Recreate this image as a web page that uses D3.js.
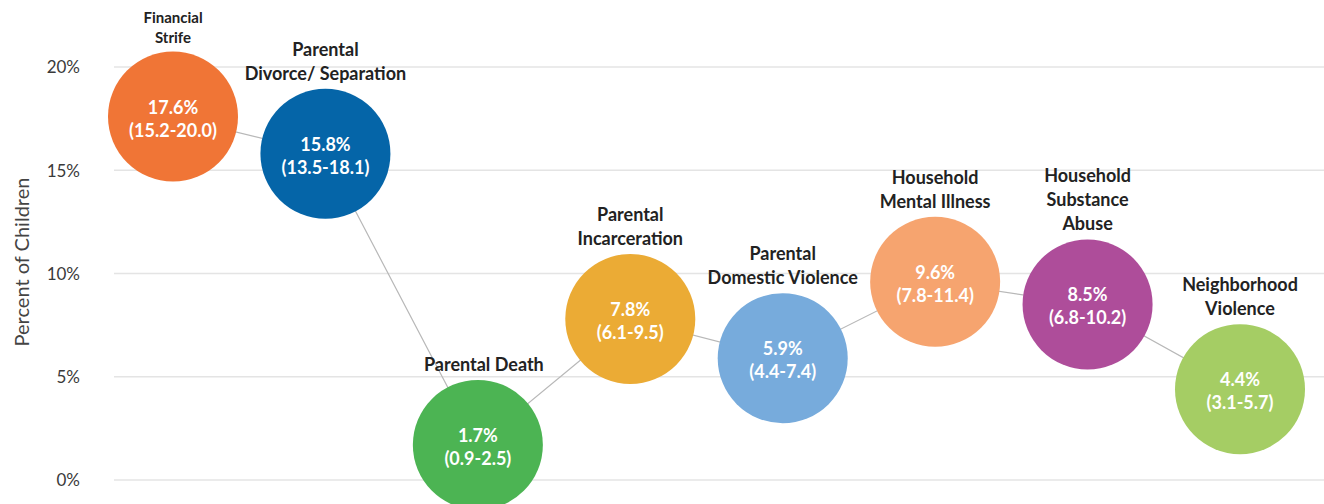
<!DOCTYPE html>
<html>
<head>
<meta charset="utf-8">
<script src="https://cdn.jsdelivr.net/npm/d3@7"></script>
<style>
  body { margin: 0; background: #fff; }
  svg text { font-family: "Lato", "Open Sans", sans-serif; }
</style>
</head>
<body>
<svg id="chart" width="1324" height="504"></svg>
<script>
// datos
var categorias = ["Financial Strife", "Parental Divorce/ Separation", "Parental Death",
  "Parental Incarceration", "Parental Domestic Violence", "Household Mental Illness",
  "Household Substance Abuse", "Neighborhood Violence"];
var etiquetas = [["Financial", "Strife"], ["Parental", "Divorce/ Separation"], ["Parental Death"],
  ["Parental", "Incarceration"], ["Parental", "Domestic Violence"], ["Household", "Mental Illness"],
  ["Household", "Substance", "Abuse"], ["Neighborhood", "Violence"]];
var valores = [17.6, 15.8, 1.7, 7.8, 5.9, 9.6, 8.5, 4.4];
var bajos = ["15.2", "13.5", "0.9", "6.1", "4.4", "7.8", "6.8", "3.1"];
var altos = ["20.0", "18.1", "2.5", "9.5", "7.4", "11.4", "10.2", "5.7"];
var colores = ["#F07536", "#0565A8", "#4CB453", "#EBAB35", "#77ABDC", "#F6A46F", "#AE4D9A", "#A5CD64"];
var ticks = [0, 5, 10, 15, 20];

var svg = d3.select("#chart");
var radio = 65;

var x = d3.scalePoint()
  .domain(categorias)
  .range([173, 1240]);

var y = d3.scaleLinear()
  .domain([0, 20])
  .range([480, 67]);

// lineas de la cuadricula
svg.append("g")
  .selectAll("line")
  .data(ticks)
  .join("line")
  .attr("x1", 114)
  .attr("x2", 1324)
  .attr("y1", d => y(d))
  .attr("y2", d => y(d))
  .attr("stroke", "#e4e4e4")
  .attr("stroke-width", 1.5);

// eje y
var ejeY = svg.append("g")
  .attr("transform", "translate(80,0)")
  .call(d3.axisLeft(y).tickValues(ticks).tickFormat(d => d + "%").tickSize(0).tickPadding(0));
ejeY.select(".domain").remove();
ejeY.selectAll("text")
  .attr("font-size", 17)
  .attr("fill", "#3a3a3a")
  .attr("dy", "0.35em");

svg.append("text")
  .attr("transform", "translate(29,262) rotate(-90)")
  .attr("text-anchor", "middle")
  .attr("font-size", 20)
  .attr("fill", "#444")
  .text("Percent of Children");

// linea que une los puntos
var linea = d3.line()
  .x((d, i) => x(categorias[i]))
  .y(d => y(d));

svg.append("path")
  .datum(valores)
  .attr("fill", "none")
  .attr("stroke", "#b8b8b8")
  .attr("stroke-width", 1.2)
  .attr("d", linea);

// circulos
var grupos = svg.append("g")
  .selectAll("g")
  .data(valores)
  .join("g")
  .attr("transform", (d, i) => "translate(" + x(categorias[i]) + "," + y(d) + ")");

grupos.append("circle")
  .attr("r", radio)
  .attr("fill", (d, i) => colores[i]);

grupos.append("text")
  .attr("text-anchor", "middle")
  .attr("y", -3)
  .attr("font-size", 18)
  .attr("font-weight", "bold")
  .attr("fill", "#fff")
  .text(d => d + "%");

grupos.append("text")
  .attr("text-anchor", "middle")
  .attr("y", 20)
  .attr("font-size", 18)
  .attr("font-weight", "bold")
  .attr("fill", "#fff")
  .text((d, i) => "(" + bajos[i] + "-" + altos[i] + ")");

// etiquetas encima de cada circulo
grupos.each(function(d, i) {
  var lineas = etiquetas[i];
  var pequeño = i == 0;
  var alto = pequeño ? 20 : 24;
  var t = d3.select(this).append("text")
    .attr("text-anchor", "middle")
    .attr("font-size", pequeño ? 15 : 18)
    .attr("font-weight", "bold")
    .attr("fill", "#222");
  lineas.forEach(function(l, k) {
    t.append("tspan")
      .attr("x", i == 2 ? 6 : 0)
      .attr("y", -radio - (pequeño ? 9 : 9) - (lineas.length - 1 - k) * alto)
      .text(l);
  });
});
</script>
</body>
</html>
